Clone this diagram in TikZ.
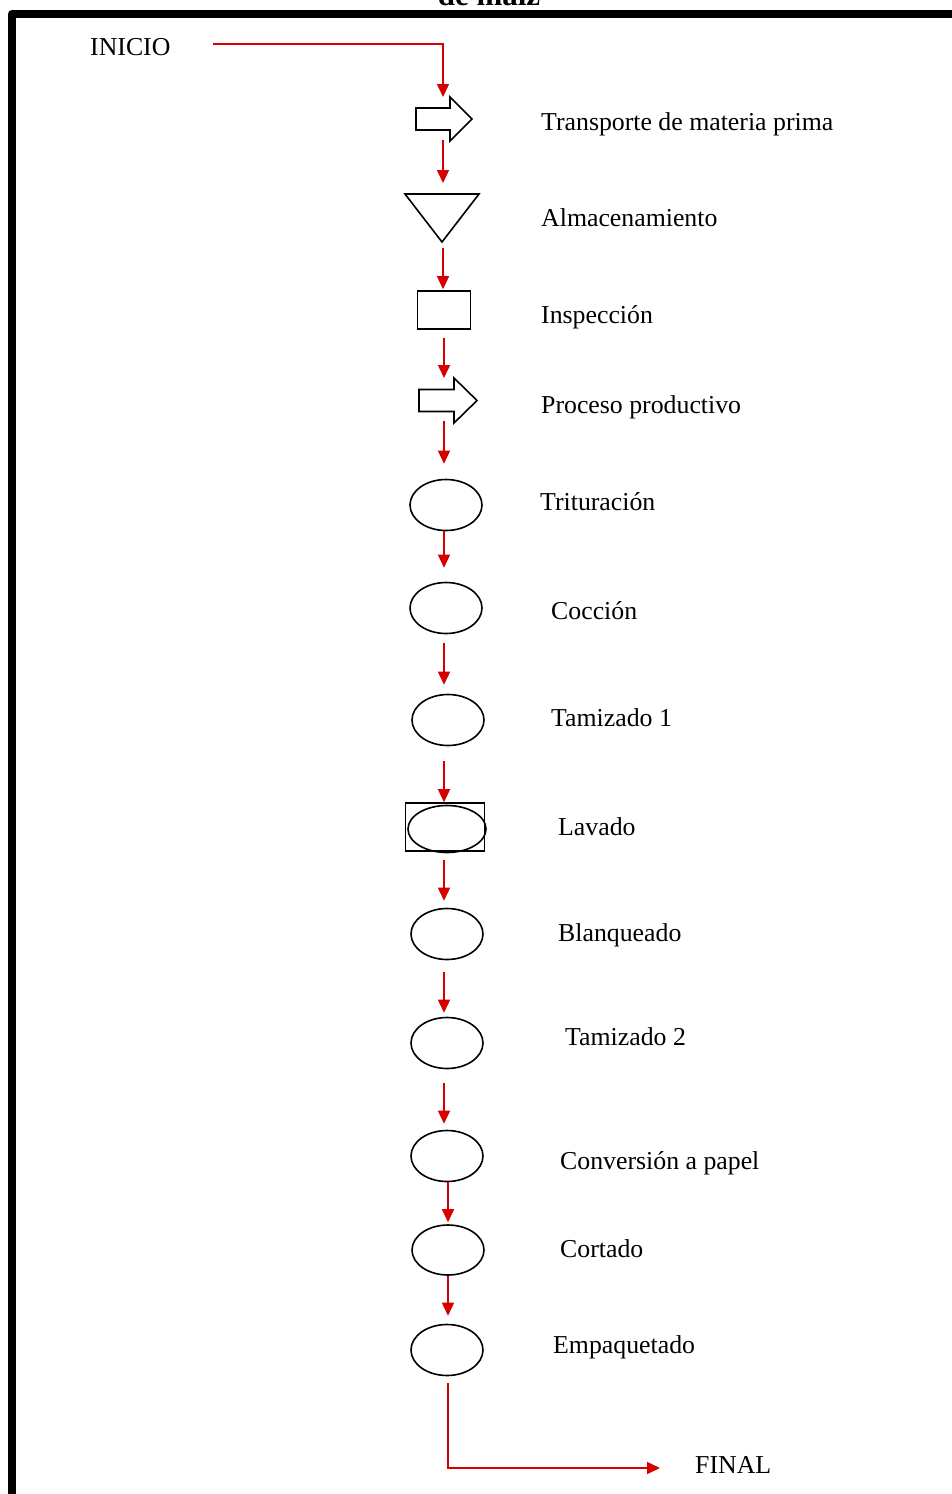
\documentclass[tikz,border=0pt]{standalone}
\usepackage{fontspec}
\setmainfont{Liberation Serif}
\usetikzlibrary{arrows.meta,shapes.geometric,calc}
\definecolor{flowred}{RGB}{214,0,0}
\newcommand\lblfont{\fontsize{25.8pt}{30pt}\selectfont}
\begin{document}
\begin{tikzpicture}[x=1pt,y=-1pt,
  lbl/.style={anchor=base west,inner sep=0pt,font=\lblfont},
  outline/.style={draw=black,line width=1.6pt},
  hold/.style={inner sep=0pt,outer sep=0pt},
  box/.style={rectangle,outline,inner sep=0pt},
  oval/.style={ellipse,outline,inner sep=0pt,minimum width=72pt,minimum height=51pt},
  flow/.style={draw=flowred,line width=1.5pt,-{Triangle[width=12pt,length=13pt]}},
]
\useasboundingbox (0,0) rectangle (952,1494);

% page frame and title
\draw[line width=8pt,line join=round] (12,1510) -- (12,14) -- (970,14);
\node[anchor=base,inner sep=0pt,font=\bfseries\fontsize{31pt}{36pt}\selectfont] (ttl) at (489,5) {de maíz};

% columns of the connectors
\coordinate (c1) at (443,0);
\coordinate (c2) at (444,0);
\coordinate (c3) at (448,0);

% symbols
\node[hold,minimum width=56pt,minimum height=44pt] (tp) at (444,119) {};
\draw[outline,line join=miter] ($(tp.center)+(-28,-11)$) -- ++(34,0) -- ++(0,-11)
  -- ++(22,22) -- ++(-22,22) -- ++(0,-11) -- ++(-34,0) -- cycle;

\node[hold,minimum width=74pt,minimum height=48pt] (al) at (442,218) {};
\draw[outline,line join=miter] ($(al.center)+(-37,-24)$) -- ++(74,0) -- ++(-37,48) -- cycle;

\node[box,minimum width=53pt,minimum height=38pt] (ins) at (444,310) {};

\node[hold,minimum width=58pt,minimum height=45pt] (pp) at (448,400.5) {};
\draw[outline,line join=miter] ($(pp.center)+(-29,-11)$) -- ++(35,0) -- ++(0,-11.5)
  -- ++(23,22.5) -- ++(-23,22.5) -- ++(0,-11.5) -- ++(-35,0) -- cycle;

\node[oval] (tr) at (446,505) {};
\node[oval] (co) at (446,608) {};
\node[oval] (t1) at (448,720) {};
\node[box,minimum width=79pt,minimum height=48pt] (lv) at (445,827) {};
\node[oval,minimum width=78pt,minimum height=47pt] (lve) at (447,829) {};
\node[oval] (bl) at (447,934) {};
\node[oval] (t2) at (447,1043) {};
\node[oval] (cv) at (447,1156) {};
\node[oval,minimum height=50pt] (ct) at (448,1250) {};
\node[oval] (em) at (447,1350) {};

% labels
\node[lbl] (ini) at (90,55) {INICIO};
\node[lbl] (l1) at (541,130) {Transporte de materia prima};
\node[lbl] (l2) at (541,226) {Almacenamiento};
\node[lbl] (l3) at (541,323) {Inspección};
\node[lbl] (l4) at (541,413) {Proceso productivo};
\node[lbl] (l5) at (540,510) {Trituración};
\node[lbl] (l6) at (551,619) {Cocción};
\node[lbl] (l7) at (551,726) {Tamizado 1};
\node[lbl] (l8) at (558,835) {Lavado};
\node[lbl] (l9) at (558,941) {Blanqueado};
\node[lbl] (l10) at (565,1045) {Tamizado 2};
\node[lbl] (l11) at (560,1169) {Conversión a papel};
\node[lbl] (l12) at (560,1257) {Cortado};
\node[lbl] (l13) at (553,1353) {Empaquetado};
\node[lbl] (fin) at (695,1473) {FINAL};

% flow
\draw[flow] ($(ini.base east)+(42,-11)$) -| (tp.north -| c1);
\draw[flow] ($(tp.south -| c1)+(0,-1)$) -- ($(al.north -| c1)+(0,-11)$);
\draw[flow] ($(al.south -| c1)+(0,6)$) -- ($(ins.north -| c1)+(0,-1)$);
\draw[flow] ($(ins.south -| c2)+(0,8)$) -- (pp.north -| c2);
\draw[flow] ($(pp.south -| c2)+(0,-2)$) -- ($(tr.north -| c2)+(0,-15)$);
\draw[flow] (tr.south -| c2) -- ($(co.north -| c2)+(0,-14)$);
\draw[flow] ($(co.south -| c2)+(0,9)$) -- ($(t1.north -| c2)+(0,-9)$);
\draw[flow] ($(t1.south -| c2)+(0,15)$) -- (lv.north -| c2);
\draw[flow] ($(lv.south -| c2)+(0,8)$) -- ($(bl.north -| c2)+(0,-7)$);
\draw[flow] ($(bl.south -| c2)+(0,12)$) -- ($(t2.north -| c2)+(0,-4)$);
\draw[flow] ($(t2.south -| c2)+(0,14)$) -- ($(cv.north -| c2)+(0,-6)$);
\draw[flow] (cv.south -| c3) -- ($(ct.north -| c3)+(0,-2)$);
\draw[flow] (ct.south -| c3) -- ($(em.north -| c3)+(0,-8)$);
\draw[flow] ($(em.south -| c3)+(0,7)$) |- ($(fin.base west)+(-35,-5)$);
\end{tikzpicture}
\end{document}
